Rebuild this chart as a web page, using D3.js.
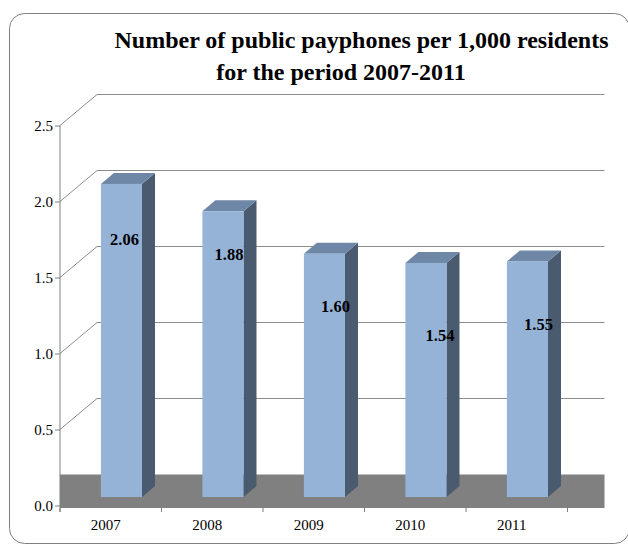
<!DOCTYPE html>
<html>
<head>
<meta charset="utf-8">
<script src="https://cdn.jsdelivr.net/npm/d3@7"></script>
<style>
  html, body { margin: 0; padding: 0; background: #ffffff; }
</style>
</head>
<body>
<svg id="chart" width="628" height="546"></svg>
<script>
// Public payphones per 1,000 residents, 2007-2011
const years = ["2007", "2008", "2009", "2010", "2011"];
const payphones = [2.06, 1.88, 1.60, 1.54, 1.55];
const yTicks = [0.0, 0.5, 1.0, 1.5, 2.0, 2.5];
const titleLines = ["Number of public payphones per 1,000 residents", "for the period 2007-2011"];

const FONT = "Liberation Serif";
const svg = d3.select("#chart");

// outer rounded frame
svg.append("rect")
  .attr("x", 9.5).attr("y", 13.5)
  .attr("width", 620).attr("height", 530)
  .attr("rx", 15).attr("ry", 15)
  .attr("fill", "#ffffff")
  .attr("stroke", "#7f7f7f").attr("stroke-width", 1);

// title
const titleX = [361.5, 341];
svg.selectAll("text.title").data(titleLines).join("text")
  .attr("class", "title")
  .attr("x", (d, i) => titleX[i])
  .attr("y", (d, i) => 48 + i * 32)
  .attr("text-anchor", "middle")
  .attr("font-family", FONT)
  .attr("font-weight", "bold")
  .attr("font-size", 24)
  .attr("fill", "#000")
  .text(d => d);

// plot geometry (oblique 3D projection)
const x0 = 60, x1 = 567.5;
const depth = { dx: 37, dy: -31 };          // floor/wall depth
const barFront = { dx: 10.7, dy: -8.5 };    // bar front plane offset
const barDepth = { dx: 13, dy: -11 };       // bar thickness in depth

const x = d3.scaleBand().domain(years).range([x0, x1]).padding(0);
const y = d3.scaleLinear().domain([0, 2.5]).range([505.5, 125.5]);
const barW = x.bandwidth() * 0.405;

// floor slab
svg.append("rect")
  .attr("x", x0).attr("y", y(0) + depth.dy)
  .attr("width", x1 + depth.dx - x0)
  .attr("height", 508 - (y(0) + depth.dy))
  .attr("fill", "#808080");

// side-wall and back-wall gridlines
const grid = svg.append("g").attr("fill", "none").attr("stroke", "#8c8c8c").attr("stroke-width", 1);
yTicks.filter(v => v > 0).forEach(v => {
  grid.append("path")
    .attr("d", `M${x0},${y(v)} L${x0 + depth.dx},${y(v) + depth.dy} L${x1 + depth.dx},${y(v) + depth.dy}`);
});

// y axis
const yAxisG = svg.append("g").attr("transform", `translate(${x0},0)`);
yAxisG.call(d3.axisLeft(y).tickValues(yTicks).tickFormat(d3.format(".1f")).tickSize(5).tickSizeOuter(0));
yAxisG.select(".domain").attr("stroke", "#7f7f7f").attr("d", `M0,${y(2.5)}V512`);
yAxisG.selectAll(".tick line").attr("stroke", "#7f7f7f");
yAxisG.selectAll(".tick text")
  .attr("font-family", FONT)
  .attr("font-size", 15).attr("fill", "#000")
  .attr("x", -7).attr("dy", "0.32em");

// x axis ticks and labels
const xTickPos = [x0].concat(years.map(d => x(d) + x.bandwidth()));
svg.append("g").selectAll("line").data(xTickPos).join("line")
  .attr("x1", d => d).attr("x2", d => d)
  .attr("y1", 508).attr("y2", 512)
  .attr("stroke", "#7f7f7f");
svg.append("g").selectAll("text").data(years).join("text")
  .attr("x", d => x(d) + x.bandwidth() / 2 - 5)
  .attr("y", 530)
  .attr("text-anchor", "middle")
  .attr("font-family", FONT)
  .attr("font-size", 15)
  .attr("fill", "#000")
  .text(d => d);

// 3D columns
const bars = years.map((yr, i) => {
  const cx = x(yr) + x.bandwidth() / 2 + barFront.dx;
  return {
    yr, v: payphones[i],
    xl: cx - barW / 2, xr: cx + barW / 2,
    yt: y(payphones[i]) + barFront.dy,
    yb: y(0) + barFront.dy
  };
});
const g = svg.append("g");
bars.forEach(b => {
  // side face
  g.append("path")
    .attr("d", `M${b.xr},${b.yt} L${b.xr + barDepth.dx},${b.yt + barDepth.dy} L${b.xr + barDepth.dx},${b.yb + barDepth.dy} L${b.xr},${b.yb} Z`)
    .attr("fill", "#4a5a6f");
  // top face
  g.append("path")
    .attr("d", `M${b.xl},${b.yt} L${b.xl + barDepth.dx},${b.yt + barDepth.dy} L${b.xr + barDepth.dx},${b.yt + barDepth.dy} L${b.xr},${b.yt} Z`)
    .attr("fill", "#6f87a6");
  // front face
  g.append("rect")
    .attr("x", b.xl).attr("y", b.yt)
    .attr("width", b.xr - b.xl).attr("height", b.yb - b.yt)
    .attr("fill", "#95b3d7");
});

// value labels, placed inside each column
const labelNudge = [[3, 61], [6, 49], [11, 58], [14, 78], [11, 69]];
svg.append("g").selectAll("text").data(bars).join("text")
  .attr("x", (b, i) => (b.xl + b.xr) / 2 + labelNudge[i][0])
  .attr("y", (b, i) => b.yt + labelNudge[i][1])
  .attr("text-anchor", "middle")
  .attr("font-family", FONT)
  .attr("font-weight", "bold")
  .attr("font-size", 16.5)
  .attr("fill", "#000")
  .text(b => b.v.toFixed(2));
</script>
</body>
</html>
